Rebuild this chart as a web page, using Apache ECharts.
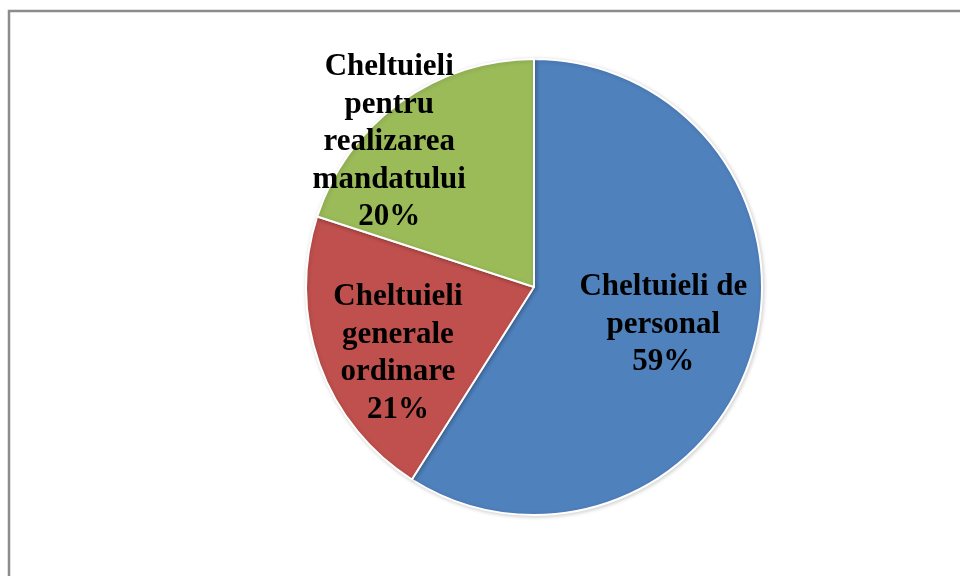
<!DOCTYPE html>
<html>
<head>
<meta charset="utf-8">
<title>Cheltuieli</title>
<style>
    html, body { margin: 0; padding: 0; background: #fff; }
    #chart { width: 960px; height: 576px; }
</style>
</head>
<body>
<div id="chart"></div>
<script src="https://cdn.jsdelivr.net/npm/echarts@6/dist/echarts.min.js"></script>
<script>
    // date
    var categories = ['Cheltuieli de\npersonal', 'Cheltuieli\ngenerale\nordinare', 'Cheltuieli\npentru\nrealizarea\nmandatului'];
    var shares = [59, 21, 20];
    var colors = ['#4f81bd', '#c0504d', '#9bbb59'];
    // deplasarea etichetelor fata de pozitia 'inside'
    var labelOffsets = [[17, 5], [-26, 27], [-76, -50]];

    var pieData = [];
    for (var i = 0; i < categories.length; i++) {
        pieData.push({
            name: categories[i],
            value: shares[i],
            itemStyle: { color: colors[i] },
            label: { offset: labelOffsets[i] }
        });
    }

    var myChart = echarts.init(document.getElementById('chart'));
    var option = {
        animation: false,
        graphic: [{
            type: 'rect',
            shape: { x: 9, y: 11, width: 1000, height: 620 },
            style: { fill: 'none', stroke: '#8c8c8c', lineWidth: 2.5 },
            z: -1
        }],
        series: [{
            type: 'pie',
            center: [534, 287],
            radius: 228,
            startAngle: 90,
            clockwise: true,
            data: pieData,
            itemStyle: {
                borderColor: '#ffffff',
                borderWidth: 2,
                shadowColor: 'rgba(0,0,0,0.18)',
                shadowBlur: 4,
                shadowOffsetX: 1,
                shadowOffsetY: 1
            },
            label: {
                show: true,
                position: 'inside',
                formatter: '{b}\n{c}%',
                color: '#000',
                fontFamily: 'Liberation Serif',
                fontWeight: 'bold',
                fontSize: 31,
                lineHeight: 37.5,
                align: 'center'
            },
            labelLine: { show: false },
            emphasis: { disabled: true }
        }]
    };
    myChart.setOption(option);
</script>
</body>
</html>
